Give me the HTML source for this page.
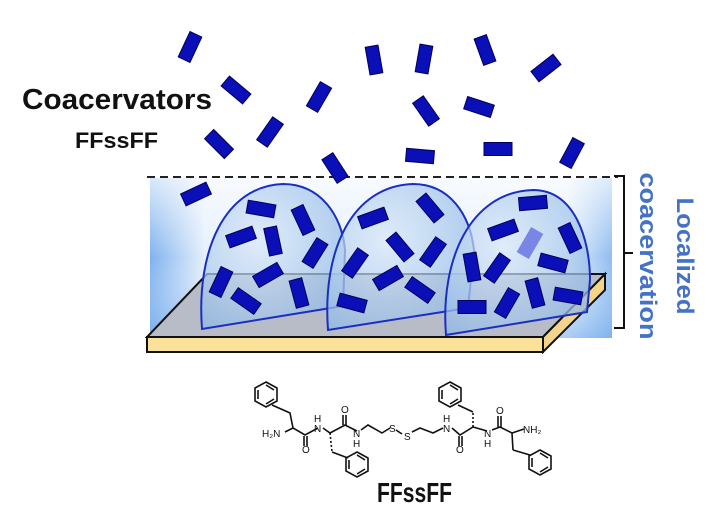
<!DOCTYPE html>
<html><head><meta charset="utf-8"><style>
html,body{margin:0;padding:0;background:#fff;}
svg{display:block;}
text{font-family:"Liberation Sans",sans-serif;font-weight:bold;}
</style></head><body>
<svg width="720" height="527" viewBox="0 0 720 527" xmlns="http://www.w3.org/2000/svg">
<defs>
<linearGradient id="bg" x1="0" y1="0" x2="1" y2="0">
<stop offset="0" stop-color="#7fb2ee"/><stop offset="0.12" stop-color="#e6f0fc"/><stop offset="0.9" stop-color="#e8f1fc"/><stop offset="1" stop-color="#8fbcf0"/>
</linearGradient>
<linearGradient id="bgv" x1="0" y1="0" x2="0" y2="1">
<stop offset="0" stop-color="#fff" stop-opacity="0.7"/><stop offset="0.5" stop-color="#fff" stop-opacity="0"/><stop offset="1" stop-color="#6fa8ec" stop-opacity="0.5"/>
</linearGradient>
<radialGradient id="dome" cx="0.4" cy="0.4" r="0.7">
<stop offset="0" stop-color="#dbe9f8" stop-opacity="0.7"/><stop offset="1" stop-color="#8fb8e6" stop-opacity="0.75"/>
</radialGradient>
<g id="r"><rect x="-14" y="-6.5" width="28" height="13" fill="#0a0fb8" stroke="#00005a" stroke-width="1"/></g>
</defs>

<!-- background box -->
<rect x="150" y="178" width="462" height="160" fill="url(#bg)"/>
<rect x="150" y="178" width="462" height="160" fill="url(#bgv)"/>
<line x1="147" y1="177" x2="618" y2="177" stroke="#222" stroke-width="2" stroke-dasharray="8,5"/>

<!-- platform -->
<polygon points="207,274 605,274 543,337 147,337" fill="#b8bcc6" stroke="#111" stroke-width="2"/>
<polygon points="147,337 543,337 543,352 147,352" fill="#fbe29a" stroke="#111" stroke-width="2"/>
<polygon points="543,337 605,274 605,290 543,352" fill="#f2d48a" stroke="#111" stroke-width="2"/>

<!-- domes -->
<path d="M202,329 C196,250 225,186 283,184 C320,184 342,215 345,250 L343,306 Z" fill="url(#dome)" stroke="#1a2fc0" stroke-width="2"/>
<path d="M328,330 C322,250 352,186 413,184 C450,184 470,215 474,250 L468,308 Z" fill="url(#dome)" stroke="#1a2fc0" stroke-width="2"/>
<path d="M446,335 C440,260 470,192 533,190 C575,190 590,240 590,280 L587,312 Z" fill="url(#dome)" stroke="#1a2fc0" stroke-width="2"/>

<!-- dome particles -->
<use href="#r" transform="translate(261,209) rotate(10)"/>
<use href="#r" transform="translate(303,220) rotate(65)"/>
<use href="#r" transform="translate(241,237) rotate(-20)"/>
<use href="#r" transform="translate(273,241) rotate(78)"/>
<use href="#r" transform="translate(315,253) rotate(-58)"/>
<use href="#r" transform="translate(268,275) rotate(-30)"/>
<use href="#r" transform="translate(221,282) rotate(-65)"/>
<use href="#r" transform="translate(246,301) rotate(35)"/>
<use href="#r" transform="translate(299,293) rotate(75)"/>
<use href="#r" transform="translate(373,218) rotate(-20)"/>
<use href="#r" transform="translate(430,208) rotate(50)"/>
<use href="#r" transform="translate(400,247) rotate(50)"/>
<use href="#r" transform="translate(433,252) rotate(-55)"/>
<use href="#r" transform="translate(355,263) rotate(-55)"/>
<use href="#r" transform="translate(388,278) rotate(-30)"/>
<use href="#r" transform="translate(420,290) rotate(35)"/>
<use href="#r" transform="translate(352,303) rotate(15)"/>
<use href="#r" transform="translate(533,203) rotate(-5)"/>
<use href="#r" transform="translate(503,230) rotate(-20)"/>
<use href="#r" transform="translate(570,238) rotate(65)"/>
<rect x="-14" y="-6.5" width="28" height="13" fill="#7a86e6" stroke="#7a86e6" transform="translate(530,243) rotate(-60)"/>
<use href="#r" transform="translate(472,267) rotate(80)"/>
<use href="#r" transform="translate(497,268) rotate(-55)"/>
<use href="#r" transform="translate(553,263) rotate(15)"/>
<use href="#r" transform="translate(535,293) rotate(75)"/>
<use href="#r" transform="translate(507,303) rotate(-60)"/>
<use href="#r" transform="translate(568,296) rotate(10)"/>
<use href="#r" transform="translate(472,307) rotate(0)"/>

<!-- free particles -->
<use href="#r" transform="translate(190,47) rotate(-65)"/>
<use href="#r" transform="translate(236,90) rotate(40)"/>
<use href="#r" transform="translate(319,97) rotate(-60)"/>
<use href="#r" transform="translate(374,60) rotate(80)"/>
<use href="#r" transform="translate(424,59) rotate(-80)"/>
<use href="#r" transform="translate(485,50) rotate(70)"/>
<use href="#r" transform="translate(546,68) rotate(-38)"/>
<use href="#r" transform="translate(426,111) rotate(55)"/>
<use href="#r" transform="translate(479,107) rotate(18)"/>
<use href="#r" transform="translate(219,144) rotate(45)"/>
<use href="#r" transform="translate(270,132) rotate(-55)"/>
<use href="#r" transform="translate(335,168) rotate(57)"/>
<use href="#r" transform="translate(420,156) rotate(5)"/>
<use href="#r" transform="translate(498,149) rotate(0)"/>
<use href="#r" transform="translate(572,153) rotate(-62)"/>
<use href="#r" transform="translate(196,194) rotate(-25)"/>

<!-- bracket -->
<path d="M614,176 L624,176 L624,328 L614,328 M624,253 L633,253" fill="none" stroke="#111" stroke-width="2"/>
<text transform="translate(640,256) rotate(90)" font-size="24" fill="#4472c4" text-anchor="middle" textLength="167" lengthAdjust="spacingAndGlyphs">coacervation</text>
<text transform="translate(677,256) rotate(90)" font-size="24" fill="#4472c4" text-anchor="middle" textLength="117" lengthAdjust="spacingAndGlyphs">Localized</text>

<!-- labels -->
<text x="22" y="109" font-size="29" fill="#111" textLength="190" lengthAdjust="spacingAndGlyphs">Coacervators</text>
<text x="75" y="148" font-size="22" fill="#111" textLength="83" lengthAdjust="spacingAndGlyphs">FFssFF</text>
<text x="377" y="502" font-size="28" fill="#111" textLength="75" lengthAdjust="spacingAndGlyphs">FFssFF</text>

<!-- molecule -->
<g stroke="#111" stroke-width="1.6" fill="none">
<polygon points="266,382 277,388 277,401 266,407 255,401 255,388"/>
<line x1="258" y1="390" x2="258" y2="399"/><line x1="266" y1="385" x2="274" y2="390"/><line x1="266" y1="404" x2="274" y2="399"/>
<polyline points="272,405 290,413 293,428 305,435 318,428"/>
<line x1="293" y1="428" x2="285" y2="432"/>
<line x1="304" y1="436" x2="304" y2="446"/><line x1="307" y1="436" x2="307" y2="446"/>
<polyline points="323,428 330,433 345,425 357,431"/>
<line x1="343" y1="425" x2="343" y2="415"/><line x1="346" y1="425" x2="346" y2="415"/>
<line x1="330" y1="433" x2="332" y2="452" stroke-dasharray="2,2"/>
<line x1="332" y1="452" x2="348" y2="458"/>
<polygon points="357,452 368,458 368,471 357,477 346,471 346,458"/>
<line x1="349" y1="460" x2="349" y2="469"/><line x1="357" y1="474" x2="365" y2="469"/><line x1="357" y1="455" x2="365" y2="460"/>
<polyline points="361,430 368,425 382,433 390,428"/>
<polyline points="396,430 402,434"/>
<polyline points="412,432 420,428 433,433 443,428"/>
<polyline points="452,428 460,435 473,427 487,431"/>
<line x1="459" y1="436" x2="459" y2="446"/><line x1="462" y1="436" x2="462" y2="446"/>
<line x1="473" y1="427" x2="473" y2="412" stroke-dasharray="2,2"/>
<line x1="473" y1="412" x2="458" y2="405"/>
<polygon points="450,382 461,388 461,401 450,407 439,401 439,388"/>
<line x1="442" y1="390" x2="442" y2="399"/><line x1="450" y1="385" x2="458" y2="390"/><line x1="450" y1="404" x2="458" y2="399"/>
<polyline points="492,430 500,427 512,433 524,429"/>
<line x1="498" y1="427" x2="498" y2="416"/><line x1="501" y1="427" x2="501" y2="416"/>
<line x1="512" y1="433" x2="513" y2="450"/>
<line x1="513" y1="450" x2="530" y2="455"/>
<polygon points="540,450 551,456 551,469 540,475 529,469 529,456"/>
<line x1="532" y1="458" x2="532" y2="467"/><line x1="540" y1="472" x2="548" y2="467"/><line x1="540" y1="453" x2="548" y2="458"/>
</g>
<g font-size="10" fill="#111" style="font-weight:normal">
<text x="262" y="437" style="font-weight:normal">H₂N</text>
<text x="302" y="453" style="font-weight:normal">O</text>
<text x="314" y="432" style="font-weight:normal">N</text><text x="314" y="422" style="font-weight:normal">H</text>
<text x="341" y="413" style="font-weight:normal">O</text>
<text x="353" y="437" style="font-weight:normal">N</text><text x="353" y="447" style="font-weight:normal">H</text>
<text x="389" y="432" style="font-weight:normal">S</text>
<text x="404" y="440" style="font-weight:normal">S</text>
<text x="443" y="432" style="font-weight:normal">N</text><text x="443" y="422" style="font-weight:normal">H</text>
<text x="456" y="453" style="font-weight:normal">O</text>
<text x="484" y="437" style="font-weight:normal">N</text><text x="484" y="447" style="font-weight:normal">H</text>
<text x="496" y="414" style="font-weight:normal">O</text>
<text x="523" y="433" style="font-weight:normal">NH₂</text>
</g>
</svg>
</body></html>
